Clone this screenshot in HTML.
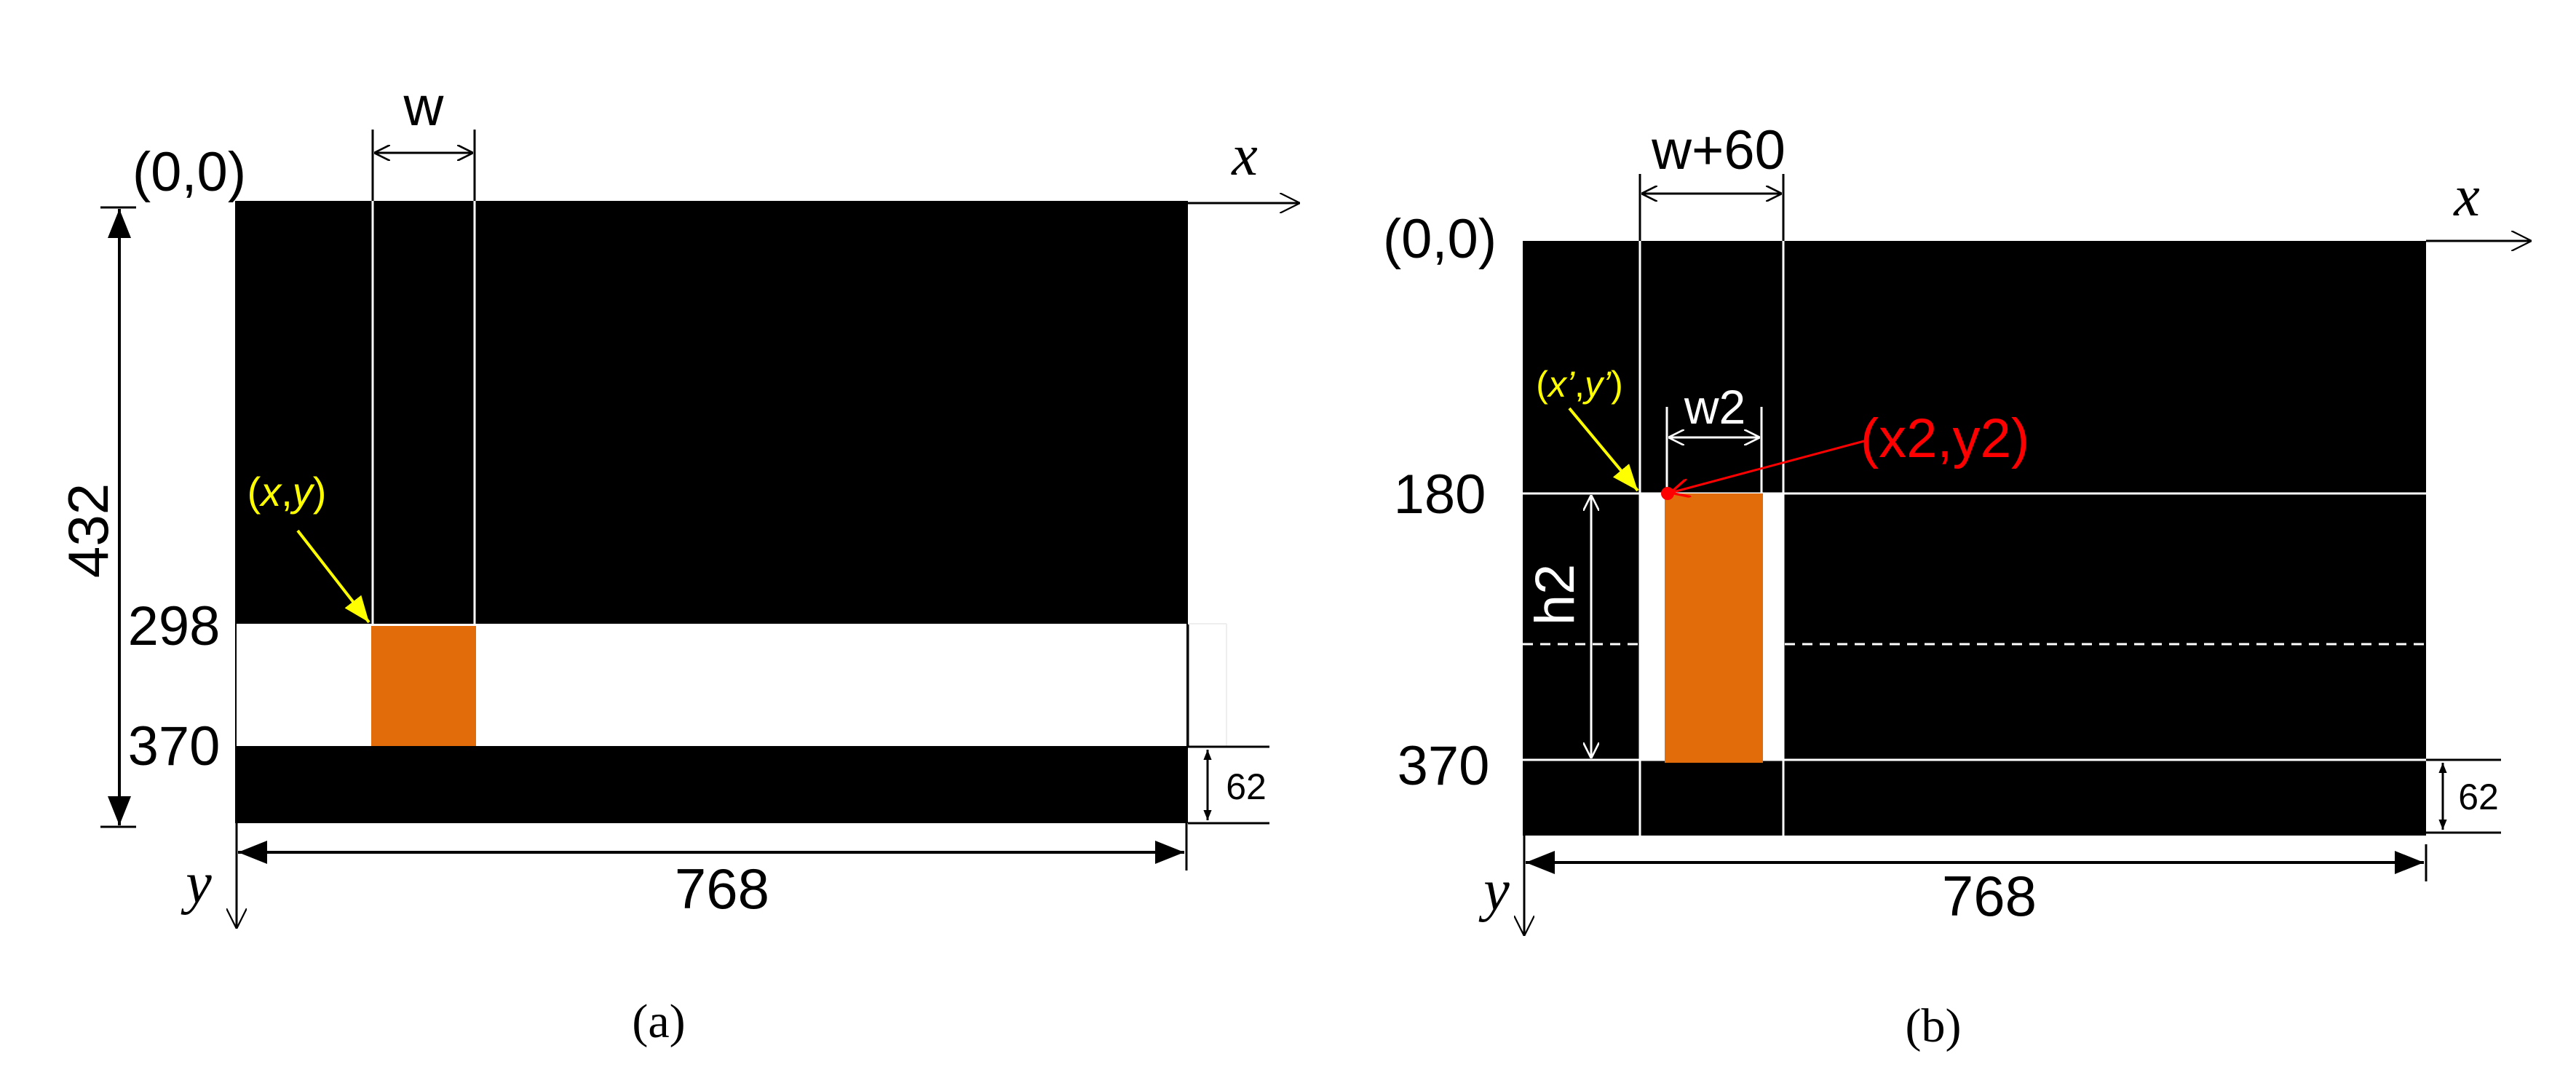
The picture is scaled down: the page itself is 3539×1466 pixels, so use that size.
<!DOCTYPE html>
<html><head><meta charset="utf-8"><style>
html,body{margin:0;padding:0;background:#fff;}
svg{display:block;}
text{font-family:"Liberation Sans",sans-serif;}
.s{font-family:"Liberation Serif",serif;font-style:italic;}
</style></head><body>
<svg width="3539" height="1466" viewBox="0 0 3539 1466" xmlns="http://www.w3.org/2000/svg">
<defs>
<marker id="oa" viewBox="0 0 10 10" refX="10" refY="5" markerWidth="22" markerHeight="22" markerUnits="userSpaceOnUse" orient="auto-start-reverse"><path d="M0,0 L10,5 L0,10" fill="none" stroke="#000" stroke-width="1.2"/></marker>
<marker id="ow" viewBox="0 0 10 10" refX="10" refY="5" markerWidth="22" markerHeight="22" markerUnits="userSpaceOnUse" orient="auto-start-reverse"><path d="M0,0 L10,5 L0,10" fill="none" stroke="#fff" stroke-width="1.2"/></marker>
<marker id="ax" viewBox="0 0 10 10" refX="10" refY="5" markerWidth="28" markerHeight="28" markerUnits="userSpaceOnUse" orient="auto-start-reverse"><path d="M0,0 L10,5 L0,10" fill="none" stroke="#000" stroke-width="0.8"/></marker>
<marker id="fa" viewBox="0 0 10 10" refX="10" refY="5" markerWidth="40" markerHeight="40" markerUnits="userSpaceOnUse" orient="auto-start-reverse"><path d="M0,1 L10,5 L0,9 z" fill="#000"/></marker>
<marker id="sa" viewBox="0 0 10 10" refX="10" refY="5" markerWidth="14" markerHeight="14" markerUnits="userSpaceOnUse" orient="auto-start-reverse"><path d="M0,1 L10,5 L0,9 z" fill="#000"/></marker>
<marker id="ya" viewBox="0 0 10 10" refX="10" refY="5" markerWidth="36" markerHeight="36" markerUnits="userSpaceOnUse" orient="auto"><path d="M0,1 L10,5 L0,9 z" fill="#ffff00"/></marker>
<marker id="ra" viewBox="0 0 10 10" refX="10" refY="5" markerWidth="26" markerHeight="26" markerUnits="userSpaceOnUse" orient="auto"><path d="M0,0 L10,5 L0,10" fill="none" stroke="#f00" stroke-width="1.3"/></marker>
</defs>

<!-- ===== (a) ===== -->
<rect x="323" y="276" width="1309" height="855" fill="#000"/>
<rect x="325" y="857" width="1305" height="168" fill="#fff"/>
<line x1="1632" y1="857" x2="1632" y2="1025" stroke="#000" stroke-width="3"/>
<line x1="1632" y1="857" x2="1685" y2="857" stroke="#eee" stroke-width="2"/>
<line x1="1685" y1="857" x2="1685" y2="1025" stroke="#eee" stroke-width="2"/>
<rect x="510" y="860" width="144" height="165" fill="#e36c0a"/>
<line x1="512" y1="178" x2="512" y2="857" stroke="#000" stroke-width="3"/>
<line x1="652" y1="178" x2="652" y2="857" stroke="#000" stroke-width="3"/>
<line x1="512" y1="276" x2="512" y2="857" stroke="#fff" stroke-width="3"/>
<line x1="652" y1="276" x2="652" y2="857" stroke="#fff" stroke-width="3"/>
<line x1="514" y1="210" x2="650" y2="210" stroke="#000" stroke-width="3" marker-start="url(#oa)" marker-end="url(#oa)"/>
<text x="582" y="172" font-size="76" text-anchor="middle">w</text>
<text x="260" y="262" font-size="76" text-anchor="middle">(0,0)</text>
<!-- 432 -->
<line x1="138" y1="285" x2="187" y2="285" stroke="#000" stroke-width="3"/>
<line x1="138" y1="1136" x2="187" y2="1136" stroke="#000" stroke-width="3"/>
<line x1="164" y1="287" x2="164" y2="1134" stroke="#000" stroke-width="4" marker-start="url(#fa)" marker-end="url(#fa)"/>
<text transform="translate(148,729) rotate(-90)" font-size="78" text-anchor="middle">432</text>
<text x="239" y="886" font-size="76" text-anchor="middle">298</text>
<text x="239" y="1051" font-size="76" text-anchor="middle">370</text>
<!-- axes -->
<line x1="1632" y1="279" x2="1786" y2="279" stroke="#000" stroke-width="3" marker-end="url(#ax)"/>
<text x="1710" y="240" font-size="80" class="s" text-anchor="middle">x</text>
<line x1="325" y1="1131" x2="325" y2="1276" stroke="#000" stroke-width="3" marker-end="url(#ax)"/>
<text x="273" y="1240" font-size="80" class="s" text-anchor="middle">y</text>
<!-- 768 -->
<line x1="1630" y1="1131" x2="1630" y2="1196" stroke="#000" stroke-width="3"/>
<line x1="327" y1="1171" x2="1627" y2="1171" stroke="#000" stroke-width="4" marker-start="url(#fa)" marker-end="url(#fa)"/>
<text x="992" y="1248" font-size="78" text-anchor="middle">768</text>
<!-- 62 -->
<line x1="1632" y1="1026" x2="1744" y2="1026" stroke="#000" stroke-width="3"/>
<line x1="1632" y1="1131" x2="1744" y2="1131" stroke="#000" stroke-width="3"/>
<line x1="1659" y1="1030" x2="1659" y2="1127" stroke="#000" stroke-width="3" marker-start="url(#sa)" marker-end="url(#sa)"/>
<text x="1712" y="1098" font-size="50" text-anchor="middle">62</text>
<!-- (x,y) -->
<text x="394" y="695" font-size="56" fill="#ffff00" text-anchor="middle">(<tspan font-style="italic">x</tspan>,<tspan font-style="italic">y</tspan>)</text>
<line x1="409" y1="729" x2="507" y2="855" stroke="#ffff00" stroke-width="4" marker-end="url(#ya)"/>
<text x="905" y="1425" font-size="66" style="font-family:'Liberation Serif',serif" text-anchor="middle">(a)</text>

<!-- ===== (b) ===== -->
<rect x="2092" y="331" width="1241" height="817" fill="#000"/>
<line x1="2092" y1="678" x2="3333" y2="678" stroke="#fff" stroke-width="3"/>
<line x1="2092" y1="1044" x2="3333" y2="1044" stroke="#fff" stroke-width="3"/>
<line x1="2092" y1="885" x2="3333" y2="885" stroke="#fff" stroke-width="3" stroke-dasharray="14,10"/>
<rect x="2253" y="678" width="197" height="366" fill="#fff"/>
<rect x="2287" y="678" width="135" height="370" fill="#e36c0a"/>
<line x1="2253" y1="239" x2="2253" y2="1148" stroke="#000" stroke-width="3"/>
<line x1="2450" y1="239" x2="2450" y2="1148" stroke="#000" stroke-width="3"/>
<line x1="2253" y1="331" x2="2253" y2="1148" stroke="#fff" stroke-width="3"/>
<line x1="2450" y1="331" x2="2450" y2="1148" stroke="#fff" stroke-width="3"/>
<line x1="2255" y1="266" x2="2448" y2="266" stroke="#000" stroke-width="3" marker-start="url(#oa)" marker-end="url(#oa)"/>
<text x="2361" y="232" font-size="76" text-anchor="middle">w+60</text>
<text x="1978" y="354" font-size="76" text-anchor="middle">(0,0)</text>
<!-- w2 -->
<line x1="2290" y1="559" x2="2290" y2="678" stroke="#fff" stroke-width="3"/>
<line x1="2420" y1="559" x2="2420" y2="678" stroke="#fff" stroke-width="3"/>
<line x1="2292" y1="601" x2="2418" y2="601" stroke="#fff" stroke-width="3" marker-start="url(#ow)" marker-end="url(#ow)"/>
<text x="2356" y="582" font-size="66" fill="#fff" text-anchor="middle">w2</text>
<!-- h2 -->
<line x1="2186" y1="680" x2="2186" y2="1042" stroke="#fff" stroke-width="3" marker-start="url(#ow)" marker-end="url(#ow)"/>
<text transform="translate(2162,817) rotate(-90)" font-size="76" fill="#fff" text-anchor="middle">h2</text>
<text x="1978" y="705" font-size="76" text-anchor="middle">180</text>
<text x="1983" y="1078" font-size="76" text-anchor="middle">370</text>
<!-- axes -->
<line x1="3333" y1="331" x2="3478" y2="331" stroke="#000" stroke-width="3" marker-end="url(#ax)"/>
<text x="3389" y="296" font-size="80" class="s" text-anchor="middle">x</text>
<line x1="2094" y1="1148" x2="2094" y2="1286" stroke="#000" stroke-width="3" marker-end="url(#ax)"/>
<text x="2056" y="1250" font-size="80" class="s" text-anchor="middle">y</text>
<!-- 768 -->
<line x1="3333" y1="1160" x2="3333" y2="1211" stroke="#000" stroke-width="3"/>
<line x1="2096" y1="1185" x2="3330" y2="1185" stroke="#000" stroke-width="4" marker-start="url(#fa)" marker-end="url(#fa)"/>
<text x="2733" y="1258" font-size="78" text-anchor="middle">768</text>
<!-- 62 -->
<line x1="3333" y1="1044" x2="3436" y2="1044" stroke="#000" stroke-width="3"/>
<line x1="3333" y1="1144" x2="3436" y2="1144" stroke="#000" stroke-width="3"/>
<line x1="3356" y1="1048" x2="3356" y2="1140" stroke="#000" stroke-width="3" marker-start="url(#sa)" marker-end="url(#sa)"/>
<text x="3405" y="1112" font-size="50" text-anchor="middle">62</text>
<!-- (x',y') -->
<text x="2170" y="545" font-size="50" fill="#ffff00" text-anchor="middle">(<tspan font-style="italic">x’</tspan>,<tspan font-style="italic">y’</tspan>)</text>
<line x1="2156" y1="561" x2="2250" y2="674" stroke="#ffff00" stroke-width="4" marker-end="url(#ya)"/>
<!-- (x2,y2) -->
<circle cx="2291" cy="678" r="9" fill="#f00"/>
<line x1="2561" y1="606" x2="2295" y2="677" stroke="#f00" stroke-width="3" marker-end="url(#ra)"/>
<text x="2672" y="628" font-size="76" fill="#f00" text-anchor="middle">(x2,y2)</text>
<text x="2656" y="1431" font-size="66" style="font-family:'Liberation Serif',serif" text-anchor="middle">(b)</text>
</svg>
</body></html>
